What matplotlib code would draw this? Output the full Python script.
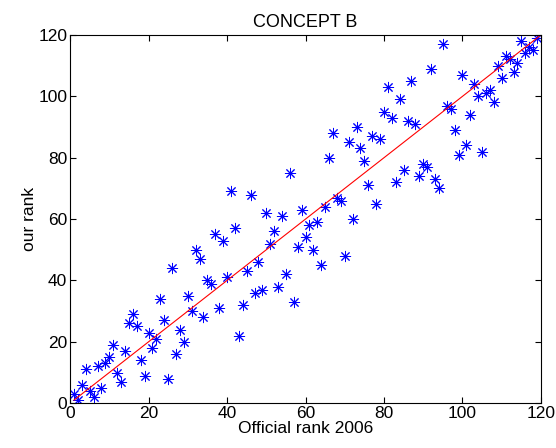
import matplotlib
matplotlib.use('Agg')
import matplotlib.pyplot as plt

# official rank (x) vs our rank (y)
official_rank = list(range(1, 120))
our_rank = [3, 1, 6, 11, 4, 2, 12, 5, 13, 15,
            19, 10, 7, 17, 26, 29, 25, 14, 9, 23,
            18, 21, 34, 27, 8, 44, 16, 24, 20, 35,
            30, 50, 47, 28, 40, 39, 55, 31, 53, 41,
            69, 57, 22, 32, 43, 68, 36, 46, 37, 62,
            52, 56, 38, 61, 42, 75, 33, 51, 63, 54,
            58, 50, 59, 45, 64, 80, 88, 67, 66, 48,
            85, 60, 90, 83, 79, 71, 87, 65, 86, 95,
            103, 93, 72, 99, 76, 92, 105, 91, 74, 78,
            77, 109, 73, 70, 117, 97, 96, 89, 81, 107,
            84, 94, 104, 100, 82, 101, 102, 98, 110, 106,
            113, 112, 108, 111, 118, 114, 116, 115, 119]
fit_x = [1, 120]
fit_y = [1, 120]

plt.rcParams['font.family'] = ['Liberation Sans', 'DejaVu Sans']
plt.rcParams['font.size'] = 12.5

fig = plt.figure(figsize=(5.56, 4.48), dpi=100)
ax = fig.add_axes([0.126, 0.10, 0.847, 0.822])

ax.plot(official_rank, our_rank, linestyle='none', marker=(8, 2, 0),
        markersize=8, markeredgewidth=0.7, color='#0000ff')
ax.plot(fit_x, fit_y, color='#ff0000', linewidth=0.8)

ax.set_xlim(0, 120)
ax.set_ylim(0, 120)
ax.set_xticks(range(0, 121, 20))
ax.set_yticks(range(0, 121, 20))
ax.tick_params(direction='in', top=True, right=True, length=4, pad=2)
ax.set_title('CONCEPT B', fontsize=13, pad=6)
ax.set_xlabel('Official rank 2006', labelpad=0)
ax.set_ylabel('our rank', labelpad=1)

fig.savefig('out.png', dpi=100)
